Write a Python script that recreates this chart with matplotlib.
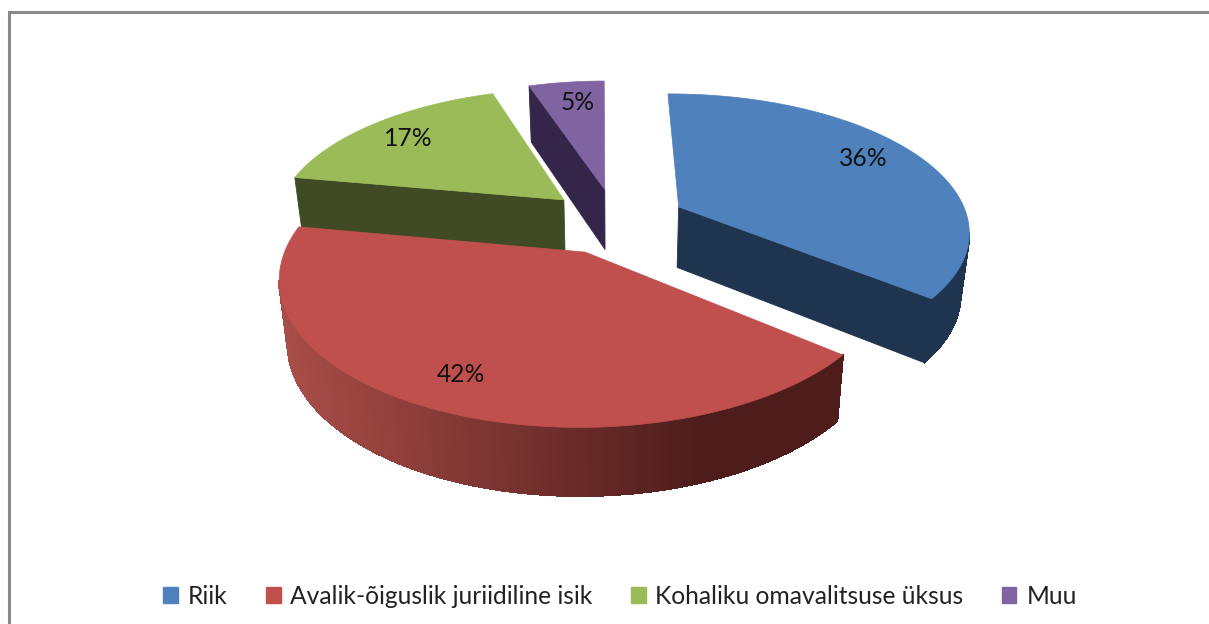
import numpy as np
import matplotlib
matplotlib.use("Agg")
import matplotlib.pyplot as plt
from matplotlib.patches import Polygon, Patch
from matplotlib.colors import to_rgb

categories = ["Riik", "Avalik-õiguslik juriidiline isik", "Kohaliku omavalitsuse üksus", "Muu"]
values = [36, 42, 17, 5]
labels = ["36%", "42%", "17%", "5%"]
top_colors = ["#4F81BD", "#C0504D", "#9BBB59", "#8064A2"]
side_colors = ["#1F344F", "#4E1D1B", "#404A24", "#33264A"]

W, H = 1209, 624
CX, CY, R, RY, K = 616, 221, 290, 135.5, 0.162
DEPTH_A, DEPTH_B, SHRINK, EXPLODE = 31, 30, 0.025, 0.244
START_DEG = -0.5
label_pos = [(863, 158), (461, 374), (408, 139), (578, 102)]

plt.rcParams['font.family'] = ['Lato', 'DejaVu Sans']
fig = plt.figure(figsize=(W / 100, H / 100), dpi=100, facecolor="white")
ax = fig.add_axes([0, 0, 1, 1])
ax.set_xlim(0, W)
ax.set_ylim(H, 0)
ax.axis("off")


def project(u, v, z=0.0):
    s = 1 / (1 - K * v)
    return CX + R * u * s * (1 - SHRINK * z), CY + RY * v * s + (DEPTH_A + DEPTH_B * s) * z


def rim_colour(x, base):
    # the front rim of the big slice fades from a lit left side to a dark right side
    left, right = np.array([0.66, 0.30, 0.28]), np.array(to_rgb(base))
    t = np.clip((x - 285) / (700 - 285), 0, 1)
    return tuple(left + (right - left) * t)


total = sum(values)
fracs = np.array(values) / total * 2 * np.pi
starts = np.concatenate([[0], np.cumsum(fracs)[:-1]]) + np.radians(START_DEG)

order = [3, 2, 0, 1]
for i in order:
    a0, a1 = starts[i], starts[i] + fracs[i]
    mid = (a0 + a1) / 2
    ox, oy = EXPLODE * np.sin(mid), -EXPLODE * np.cos(mid)
    th = np.linspace(a0, a1, 200)
    u = ox + np.sin(th)
    v = oy - np.cos(th)
    topx, topy = project(u, v, 0)
    botx, boty = project(u, v, 1)
    ax0, ay0 = project(ox, oy, 0)
    bx0, by0 = project(ox, oy, 1)
    # radial walls, only those that face the viewer
    for end, facing in ((0, -np.sin(a0)), (-1, np.sin(a1))):
        if facing > 0.05:
            ax.add_patch(Polygon([(ax0, ay0), (topx[end], topy[end]), (botx[end], boty[end]), (bx0, by0)],
                                 closed=True, fc=side_colors[i], ec=side_colors[i], lw=0.6, zorder=2))
    # outer rim: only the part running right-to-left along the front
    for j in range(len(th) - 1):
        if not (topx[j + 1] < topx[j] and -np.cos(th[j]) > 0):
            continue
        c = side_colors[i]
        if i == 1:
            c = rim_colour((topx[j] + topx[j + 1]) / 2, side_colors[i])
        ax.add_patch(Polygon([(topx[j], topy[j]), (topx[j + 1], topy[j + 1]),
                              (botx[j + 1], boty[j + 1]), (botx[j], boty[j])],
                             closed=True, fc=c, ec=c, lw=1.0, antialiased=False, zorder=2))
    pts = [(ax0, ay0)] + list(zip(topx, topy))
    ax.add_patch(Polygon(pts, closed=True, fc=top_colors[i], ec=top_colors[i], lw=0.5, zorder=2))

for (x, y), t in zip(label_pos, labels):
    ax.text(x, y, t, ha="center", va="center", fontsize=17.7, color="#111111", zorder=5)

# chart frame (left and top edges)
ax.plot([9, 9, W], [H, 12, 12], color="#8A8A8A", lw=2.2, solid_joinstyle="miter", zorder=6)

handles = [Patch(fc=c, ec=c, label=n) for c, n in zip(top_colors, categories)]
ax.legend(handles=handles, ncol=4, loc="center", bbox_to_anchor=(620, 596),
          bbox_transform=ax.transData, frameon=False, fontsize=17.7, labelcolor="#222222",
          handlelength=0.6, handleheight=0.6, handletextpad=0.4, columnspacing=1.55,
          borderpad=0, borderaxespad=0)

fig.savefig("out.png", dpi=100, facecolor="white")
